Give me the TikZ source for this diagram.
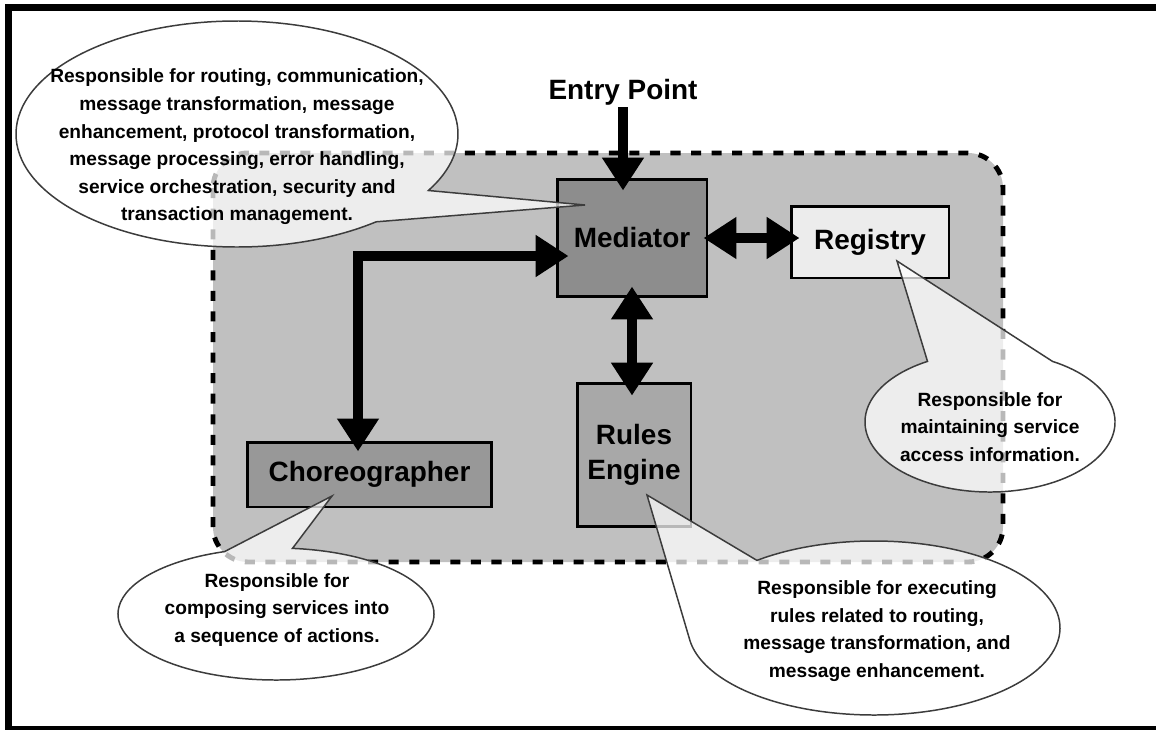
\documentclass[tikz,border=0pt]{standalone}
\usepackage{fontspec}
\setmainfont{Liberation Sans}
\usetikzlibrary{arrows.meta,calc}

\definecolor{busgray}{RGB}{192,192,192}
\definecolor{medgray}{RGB}{141,141,141}
\definecolor{reggray}{RGB}{236,236,236}
\definecolor{rulesgray}{RGB}{168,168,168}
\definecolor{chorgray}{RGB}{152,152,152}
\definecolor{notegray}{RGB}{60,60,60}

\begin{document}
\begin{tikzpicture}[x=0.02cm, y=-0.02cm,
	box/.style={draw, line width=1.7pt, align=center, inner sep=0pt, font=\fontsize{15.9}{19.8}\selectfont\bfseries},
	bigarrow/.style={line width=5.7pt, >={Triangle[width=22.7pt,length=18.7pt]}},
	note/.style={draw=notegray, line width=0.85pt, fill=white, fill opacity=0.72},
	notetext/.style={align=center, inner sep=0pt, font=\fontsize{10.9}{15.7}\selectfont\bfseries}]
	\useasboundingbox (0,0) rectangle (1156,730);
	% outer frame
	\draw [line width=4pt] (1156,7.5) -| (8.5,729.5) -- (1156,729.5);
	% ESB area
	\draw [fill=busgray, line width=2.8pt, rounded corners=20pt, dash pattern=on 5.7pt off 6pt] (213,153) rectangle (1003,562);
	% components
	\node [box, fill=medgray, minimum width=3cm, minimum height=2.36cm] (med) at (632,238) {Mediator};
	\node [box, fill=reggray, minimum width=3.16cm, minimum height=1.44cm] (reg) at (870,242) {Registry};
	\node [box, fill=rulesgray, minimum width=2.28cm, minimum height=2.88cm] (rules) at (634,455) {Rules\\Engine};
	\node [box, fill=chorgray, minimum width=4.9cm, minimum height=1.3cm] (chor) at (369.5,474.5) {Choreographer};
	\node [inner sep=1pt, font=\fontsize{15.9}{19.8}\selectfont\bfseries] (entry) at (623,92) {Entry Point};
	\coordinate (bend) at (358,256);
	% connectors
	\draw [bigarrow, ->, shorten >=-7.4pt] (entry.south) -- (entry.south |- med.north);
	\draw [bigarrow, <->, shorten <=-6.2pt, shorten >=-7.4pt] (chor.north -| bend) -- (bend) -- (med.west |- bend);
	\draw [bigarrow, <->, shorten <=-2.8pt, shorten >=-5.7pt] (med.east) -- (reg.west |- med.east);
	\draw [bigarrow, <->, shorten <=-6.8pt, shorten >=-8pt] (med.south) -- (rules.north -| med.south);
	% callouts: centre and pointer tip
	\coordinate (medNote) at (237,134);   \coordinate (medTip) at (585,205);
	\coordinate (regNote) at (990,422);   \coordinate (regTip) at (897,261);
	\coordinate (rulesNote) at (874,628); \coordinate (rulesTip) at (647,495);
	\coordinate (chorNote) at (276,614);  \coordinate (chorTip) at (332,496);
	\draw [note] ($(medNote)+(51:221 and 113)$) arc [start angle=51, end angle=390, x radius=221, y radius=113] -- (medTip) -- cycle;
	\draw [note] ($(regNote)+(-60:125 and 70)$) arc [start angle=-60, end angle=240, x radius=125, y radius=70] -- (regTip) -- cycle;
	\draw [note] ($(rulesNote)+(231:186 and 87)$) arc [start angle=231, end angle=532, x radius=186, y radius=87] -- (rulesTip) -- cycle;
	\draw [note] ($(chorNote)+(276:158 and 66)$) arc [start angle=276, end angle=611, x radius=158, y radius=66] -- (chorTip) -- cycle;
	\node [notetext] (medText) at (237,147) {Responsible for routing, communication,\\message transformation, message\\enhancement, protocol transformation,\\message processing, error handling,\\service orchestration, security and\\transaction management.};
	\node [notetext] (regText) at (990,427) {Responsible for\\maintaining service\\access information.};
	\node [notetext] (rulesText) at (877,631) {Responsible for executing\\rules related to routing,\\message transformation, and\\message enhancement.};
	\node [notetext] (chorText) at (277,610) {Responsible for\\composing services into\\a sequence of actions.};
\end{tikzpicture}
\end{document}
